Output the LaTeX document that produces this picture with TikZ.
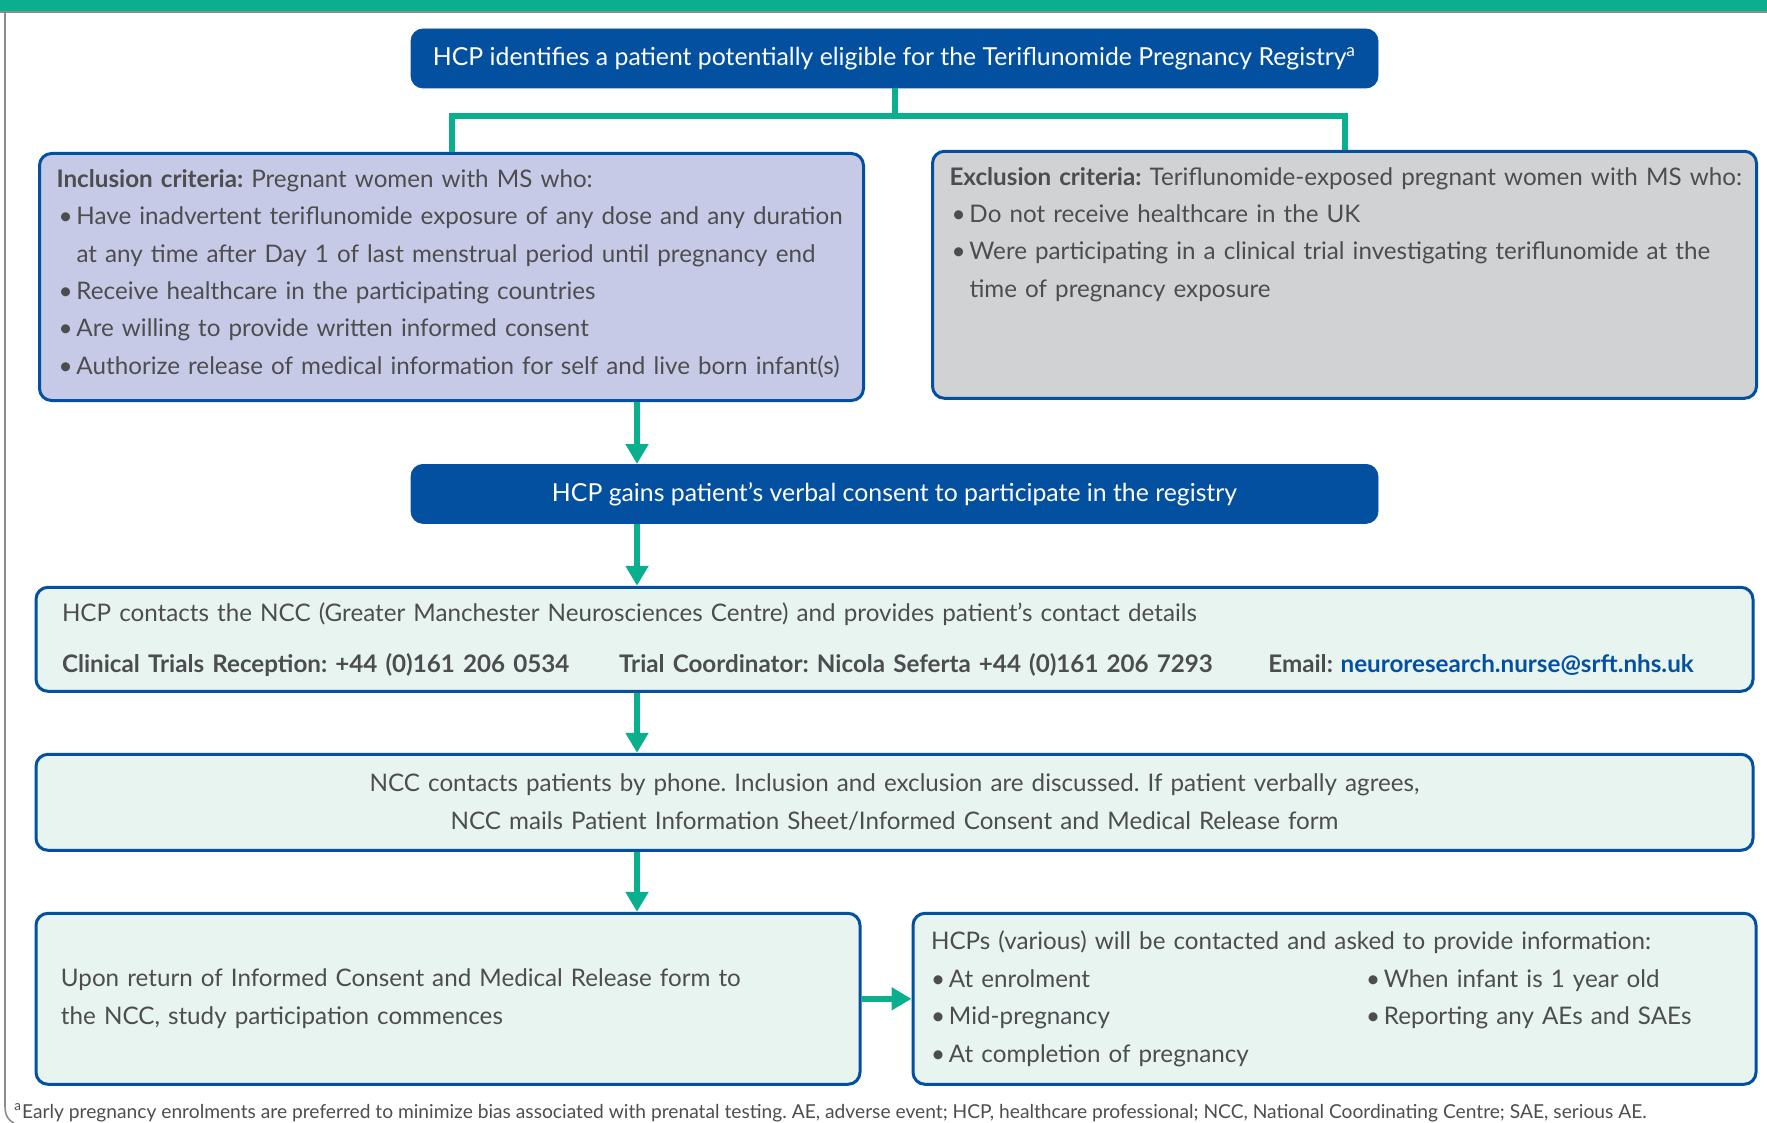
\documentclass[tikz,border=0pt]{standalone}
\usepackage{xcolor}
\usepackage{fontspec}
\setmainfont{Lato}
\usepackage{tikz}
\usetikzlibrary{positioning, arrows.meta, calc}

\definecolor{regblue}{HTML}{0450A0}
\definecolor{regteal}{HTML}{0AB08E}
\definecolor{incfill}{HTML}{C6CAE6}
\definecolor{excfill}{HTML}{D1D2D4}
\definecolor{stepfill}{HTML}{E7F4F0}
\definecolor{textgrey}{HTML}{4D4D4F}
\definecolor{framegrey}{HTML}{8C8C8C}

\newcommand{\bul}{\makebox[9pt][l]{\textbullet}}
\newcommand{\bitem}[1]{\par\hangindent=10pt\hangafter=1\hspace*{1pt}\bul#1}
\newcommand{\critstrut}{\rule[-5.2pt]{0pt}{5.2pt}}

\begin{document}
\frenchspacing
\begin{tikzpicture}[x=0.5pt, y=-0.5pt,
  every node/.style={text=textgrey, font=\fontsize{12.1}{18.7}\selectfont},
  bluebox/.style={fill=regblue, draw=regblue, rounded corners=6pt, text=white, font=\fontsize{12.4}{18.7}\selectfont, minimum width=483.5pt, minimum height=29.5pt, inner sep=0pt},
  stepbox/.style={draw=regblue, line width=1.5pt, rounded corners=6pt, align=left, inner xsep=8.5pt, inner ysep=0pt},
  critbox/.style={stepbox, text width=395pt, minimum height=123.5pt},
  flow/.style={regteal, line width=3pt, -{Triangle[length=10pt, width=11pt]}},
  branch/.style={regteal, line width=3pt}
]
\useasboundingbox (0,0) rectangle (1767,1123);
\fill[regteal] (0,0) rectangle (1767,12);
\draw[framegrey, line width=0.8pt] (0,12) -- (1767,12);
\draw[framegrey, line width=0.8pt] (5,12) -- (5,1106) .. controls (5,1116) and (9,1121) .. (14,1123);

\node[bluebox] (ident) at (894.5,58.5) {HCP identifies a patient potentially eligible for the Teriflunomide Pregnancy Registry\textsuperscript{a}};

\node[critbox, fill=incfill, anchor=north west] (incl) at (38,152) {
  \textbf{Inclusion criteria:} Pregnant women with MS who:
  \bitem{\mbox{Have inadvertent teriflunomide exposure of any dose and any duration}\newline at any time after Day 1 of last menstrual period until pregnancy end}
  \bitem{Receive healthcare in the participating countries}
  \bitem{Are willing to provide written informed consent}
  \bitem{Authorize release of medical information for self and live born infant(s)\critstrut}
};

\node[critbox, fill=excfill, right=33pt of incl, yshift=1.1pt] (excl) {
  \mbox{\textbf{Exclusion criteria:} Teriflunomide-exposed pregnant women with MS who:}
  \bitem{Do not receive healthcare in the UK}
  \bitem{Were participating in a clinical trial investigating teriflunomide at the\newline time of pregnancy exposure}
  \par\mbox{}\par\mbox{\critstrut}
};

\coordinate (mid) at (incl.south -| ident);
\node[bluebox, below=31pt of mid] (consent) {HCP gains patient’s verbal consent to participate in the registry};

\node[stepbox, fill=stepfill, text width=832.5pt, inner xsep=13pt, minimum height=52pt, below=31pt of consent] (contact) {
  HCP contacts the NCC (Greater Manchester Neurosciences Centre) and provides patient’s contact details\\[6.8pt]
  \textbf{\makebox[278.5pt][l]{Clinical Trials Reception: +44 (0)161 206 0534}\makebox[324.5pt][l]{Trial Coordinator: Nicola Seferta +44 (0)161 206 7293}Email: \textcolor{regblue}{neuroresearch.nurse@srft.nhs.uk}}
};

\node[stepbox, fill=stepfill, align=center, text width=841.5pt, minimum height=48pt, below=30pt of contact] (ncc) {
  NCC contacts patients by phone. Inclusion and exclusion are discussed. If patient verbally agrees,\\
  NCC mails Patient Information Sheet/Informed Consent and Medical Release form
};

\node[stepbox, fill=stepfill, text width=387pt, inner xsep=12.5pt, minimum height=85.5pt, below=30pt of ncc.south west, anchor=north west] (upon) {
  Upon return of Informed Consent and Medical Release form to\\
  the NCC, study participation commences
};

\node[stepbox, fill=stepfill, text width=403.5pt, inner xsep=9pt, minimum height=85.5pt, right=25pt of upon] (hcps) {
  HCPs (various) will be contacted and asked to provide information:\\
  \makebox[217.5pt][l]{\bul At enrolment}\bul When infant is 1 year old\\
  \makebox[217.5pt][l]{\bul Mid-pregnancy}\bul Reporting any AEs and SAEs\\
  \bul At completion of pregnancy
};

\node[font=\fontsize{9.6}{11}\selectfont, anchor=base west, inner sep=0pt] (note) at (14,1118) {\textsuperscript{a}Early pregnancy enrolments are preferred to minimize bias associated with prenatal testing. AE, adverse event; HCP, healthcare professional; NCC, National Coordinating Centre; SAE, serious AE.};

\draw[branch] (ident.south) -- ++(0,28) coordinate (fork);
\draw[branch] (incl.north) |- (fork) -| (excl.north);

\coordinate (spine) at (637,0);
\draw[flow] (incl.south -| spine) -- (consent.north -| spine);
\draw[flow] (consent.south -| spine) -- (contact.north -| spine);
\draw[flow] (contact.south -| spine) -- (ncc.north -| spine);
\draw[flow] (ncc.south -| spine) -- (upon.north -| spine);
\draw[flow] (upon.east) -- (hcps.west);
\end{tikzpicture}
\end{document}
